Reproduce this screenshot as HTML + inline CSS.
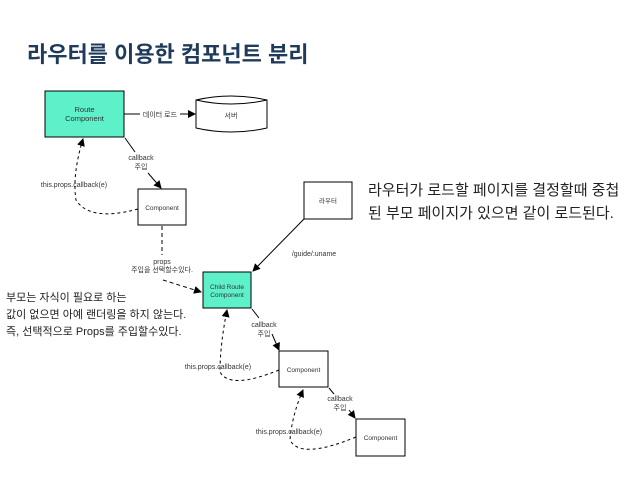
<!DOCTYPE html>
<html><head><meta charset="utf-8"><style>
body{margin:0;background:#fff;width:638px;height:479px;overflow:hidden;font-family:"Liberation Sans","Noto Sans CJK KR",sans-serif}
svg{position:absolute;left:0;top:0}
</style></head><body>
<svg width="638" height="479" viewBox="0 0 638 479" font-family="Liberation Sans, Noto Sans CJK KR, sans-serif">
<defs><marker id="a" markerWidth="8" markerHeight="8" refX="7" refY="4" orient="auto" markerUnits="userSpaceOnUse"><path d="M0,0 L8,4 L0,8 Z" fill="#000"/></marker></defs>
<text x="27" y="62" font-size="22" font-weight="bold" fill="#1f3a5a">라우터를 이용한 컴포넌트 분리</text>
<!-- boxes -->
<rect x="45" y="91" width="79" height="46" fill="#5ef0c8" stroke="#000"/>
<text x="84.5" y="112" font-size="7.5" text-anchor="middle" fill="#333">Route</text>
<text x="84.5" y="121" font-size="7.5" text-anchor="middle" fill="#333">Component</text>
<path d="M196,100 Q231,92 267,100 L267,128 Q231,136 196,128 Z" fill="#fff" stroke="#000"/>
<path d="M196,100 Q231,108 267,100" fill="none" stroke="#000"/>
<text x="231" y="118" font-size="7" text-anchor="middle" fill="#333">서버</text>
<rect x="138" y="189" width="48" height="36" fill="#fff" stroke="#000"/>
<text x="162" y="210" font-size="6.5" text-anchor="middle" fill="#333">Component</text>
<rect x="304" y="182" width="48" height="37" fill="#fff" stroke="#000"/>
<text x="328" y="203" font-size="6.5" text-anchor="middle" fill="#333">라우터</text>
<rect x="203" y="272" width="48" height="36" fill="#5ef0c8" stroke="#000"/>
<text x="227" y="289" font-size="6.5" text-anchor="middle" fill="#333">Child Route</text>
<text x="227" y="297" font-size="6.5" text-anchor="middle" fill="#333">Component</text>
<rect x="279" y="351" width="49" height="36" fill="#fff" stroke="#000"/>
<text x="303.5" y="372" font-size="6.5" text-anchor="middle" fill="#333">Component</text>
<rect x="356" y="419" width="49" height="37" fill="#fff" stroke="#000"/>
<text x="380.5" y="440" font-size="6.5" text-anchor="middle" fill="#333">Component</text>
<!-- connectors -->
<g stroke="#000" fill="none" stroke-width="1">
<path d="M124,114 L140,114 M180,114 L195,114" marker-end="url(#a)"/>
<path d="M125,138 L135,152" /><path d="M148,173 L161,188" marker-end="url(#a)"/>
<path d="M138,209 Q90,222 76,200 Q72,175 83,139" stroke-dasharray="3,3" marker-end="url(#a)"/>
<path d="M162,226 L162,255" stroke-dasharray="4,3"/>
<path d="M163,280 L201,292" stroke-dasharray="4,3" marker-end="url(#a)"/>
<path d="M304,219 L253,271" marker-end="url(#a)"/>
<path d="M252,309 L259,318"/><path d="M272,334 L279,350" marker-end="url(#a)"/>
<path d="M279,370 Q230,390 220,372 Q220,345 227,310" stroke-dasharray="3,3" marker-end="url(#a)"/>
<path d="M329,388 L334,394"/><path d="M349,410 L355,418" marker-end="url(#a)"/>
<path d="M356,437 Q300,460 290,440 Q292,415 303,390" stroke-dasharray="3,3" marker-end="url(#a)"/>
</g>
<g font-size="7" fill="#333" text-anchor="middle">
<rect x="140" y="108" width="40" height="10" fill="#fff"/>
<text x="160" y="117">데이터 로드</text>
<text x="141" y="160">callback</text><text x="141" y="169">주입</text>
<text x="74" y="187">this.props.callback(e)</text>
<text x="162" y="264">props</text><text x="162" y="272">주입을 선택할수있다.</text>
<text x="314" y="256">/guide/:uname</text>
<text x="264" y="327">callback</text><text x="264" y="336">주입</text>
<text x="218" y="369">this.props.callback(e)</text>
<text x="340" y="401">callback</text><text x="340" y="410">주입</text>
<text x="289" y="434">this.props.callback(e)</text>
</g>
<g font-size="15" fill="#222">
<text x="368" y="195">라우터가 로드할 페이지를 결정할때 중첩</text>
<text x="368" y="218">된 부모 페이지가 있으면 같이 로드된다.</text>
</g>
<g font-size="11" fill="#222">
<text x="6" y="301">부모는 자식이 필요로 하는</text>
<text x="6" y="318">값이 없으면 아예 랜더링을 하지 않는다.</text>
<text x="6" y="335">즉, 선택적으로 Props를 주입할수있다.</text>
</g>
</svg>
</body></html>
